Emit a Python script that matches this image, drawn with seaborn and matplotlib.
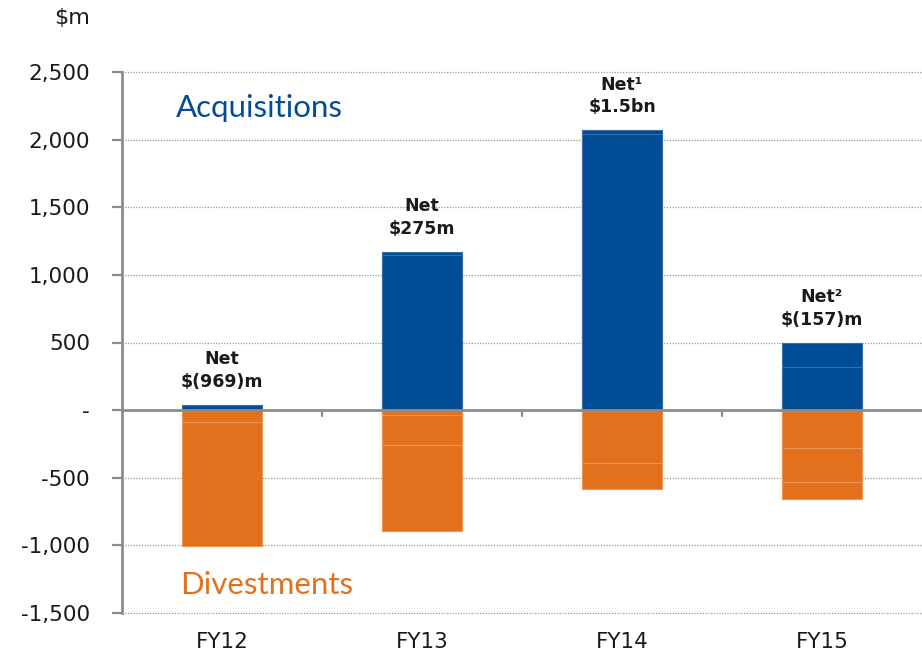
import numpy as np
import pandas as pd
import matplotlib
matplotlib.use("Agg")
import matplotlib.pyplot as plt
import seaborn as sns

# ---- data ----
years = ["FY12", "FY13", "FY14", "FY15"]
acq_segments = [[36], [1144, 24], [2039, 30], [316, 184]]
div_segments = [[-89, -916], [-37, -222, -634], [-394, -190], [-283, -247, -127]]
net_labels = ["Net\n$(969)m", "Net\n$275m", "Net\u00b9\n$1.5bn", "Net\u00b2\n$(157)m"]
yticks = [-1500, -1000, -500, 0, 500, 1000, 1500, 2000, 2500]
ytick_labels = ["-1,500", "-1,000", "-500", "-", "500", "1,000", "1,500", "2,000", "2,500"]

BLUE = "#004C97"
ORANGE = "#E2711D"
BLUE_EDGE = "#3A6FA8"
ORANGE_EDGE = "#EE9550"
GRAY = "#8C8C8C"

sns.set_theme(style="white")
plt.rcParams["font.family"] = ["DejaVu Sans"]

fig = plt.figure(figsize=(9.22, 6.58), dpi=100)
ax = fig.add_axes([122 / 922, 45 / 658, 800 / 922, 541 / 658])


def layers(segs):
    """cumulative layers: outer totals first, inner boundaries after"""
    n = max(len(s) for s in segs)
    out = []
    for k in range(n, 0, -1):
        vals = []
        for s in segs:
            if k <= len(s):
                vals.append(float(np.sum(s[:k])))
            else:
                vals.append(np.nan)
        out.append(vals)
    return out


for segs, col, edge in [(acq_segments, BLUE, BLUE_EDGE), (div_segments, ORANGE, ORANGE_EDGE)]:
    for i, vals in enumerate(layers(segs)):
        df = pd.DataFrame({"year": years, "value": vals})
        sns.barplot(data=df, x="year", y="value", order=years, color=col,
                    width=0.4, saturation=1, ax=ax, edgecolor=edge,
                    linewidth=0.8, errorbar=None, zorder=3 + i)

ax.set_xlim(-0.5, 3.5)
ax.set_ylim(-1500, 2500)

# grid
for yv in yticks:
    if yv != 0:
        ax.axhline(yv, color="#9a9a9a", lw=0.9, ls=(0, (1, 1.2)), zorder=1, clip_on=False)
ax.axhline(0, color=GRAY, lw=2.0, zorder=10)

# x boundary ticks on the zero line
for xb in [0.5, 1.5, 2.5]:
    ax.plot([xb, xb], [0, -45], color=GRAY, lw=1.6, zorder=10)

ax.set_yticks(yticks)
ax.set_yticklabels(ytick_labels, fontsize=15.5, color="#1a1a1a")
ax.set_xticks(range(len(years)))
ax.set_xticklabels(years, fontsize=15.5, color="#1a1a1a")
ax.set_xlabel("")
ax.set_ylabel("")
ax.tick_params(axis="y", which="both", left=True, length=7, width=1.6, color=GRAY, pad=16)
ax.tick_params(axis="x", bottom=False, pad=8)

for side in ["top", "right", "bottom"]:
    ax.spines[side].set_visible(False)
ax.spines["left"].set_color(GRAY)
ax.spines["left"].set_linewidth(2.0)

# net labels
acq_tot = [sum(s) for s in acq_segments]
for i, lab in enumerate(net_labels):
    ax.annotate(lab, xy=(i, acq_tot[i]), xytext=(0, 10), textcoords="offset points",
                ha="center", va="bottom", fontsize=12.5, fontweight="bold",
                color="#1a1a1a", linespacing=1.35, zorder=12)

ax.text(0.0675, 0.9335, "Acquisitions", transform=ax.transAxes, fontsize=22.5,
        color=BLUE, family="Lato", ha="left", va="center")
ax.text(0.0725, 0.0518, "Divestments", transform=ax.transAxes, fontsize=22.5,
        color=ORANGE, family="Lato", ha="left", va="center")
fig.text(72 / 922, 1 - 18 / 658, "$m", fontsize=16, color="#1a1a1a", ha="center", va="center")

fig.savefig("out.png", dpi=100)
